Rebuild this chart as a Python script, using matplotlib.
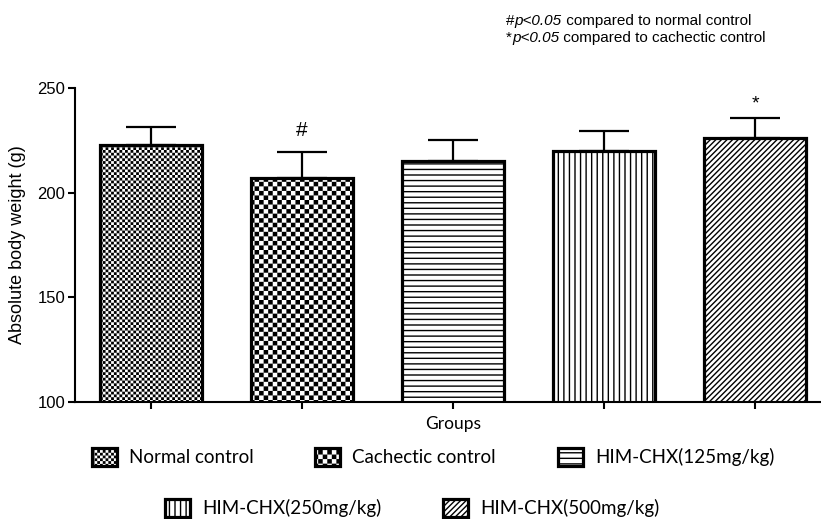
import numpy as np
import matplotlib
matplotlib.use("Agg")
import matplotlib.pyplot as plt
import matplotlib.hatch as mhatch
from matplotlib.path import Path

# data (mean and upper error, g)
groups = ["Normal control", "Cachectic control", "HIM-CHX(125mg/kg)",
          "HIM-CHX(250mg/kg)", "HIM-CHX(500mg/kg)"]
means = [222.8, 206.9, 215.1, 219.9, 226.3]
errors = [8.4, 12.5, 10.1, 9.6, 9.2]
marks = ["", "#", "", "", "*"]
hatches = ["o" * 18, "o" * 11, "---", "|||", "//////"]

HATCH_LW = 1.0  # points


# checkerboard fill: re-use the 'o' hatch letter, count sets the cell size
class CheckerHatch(mhatch.HatchPatternBase):
    def __init__(self, hatch, density):
        self.n = hatch.count("o") * 2
        self.num_vertices = (self.n * self.n // 2) * 5 if self.n else 0

    def set_vertices_and_codes(self, vertices, codes):
        s = 1.0 / self.n
        # the hatch is also stroked, so pull each square in by half a line
        d = HATCH_LW / 72 / 2
        k = 0
        for i in range(self.n):
            for j in range(self.n):
                if (i + j) % 2:
                    continue
                x0, y0 = i * s + d, j * s + d
                x1, y1 = (i + 1) * s - d, (j + 1) * s - d
                vertices[k:k + 5] = [(x0, y0), (x1, y0), (x1, y1), (x0, y1), (x0, y0)]
                codes[k:k + 5] = [Path.MOVETO, Path.LINETO, Path.LINETO, Path.LINETO, Path.CLOSEPOLY]
                k += 5


mhatch._hatch_types[mhatch._hatch_types.index(mhatch.SmallCircles)] = CheckerHatch

plt.rcParams["font.family"] = ["Liberation Sans", "DejaVu Sans"]
plt.rcParams["hatch.linewidth"] = HATCH_LW

fig = plt.figure(figsize=(8.21, 5.19), dpi=100)
ax = fig.add_axes([75 / 821, 1 - 402 / 519, 745 / 821, 314 / 519])

x = np.arange(len(groups))
ax.errorbar(x, means, yerr=[np.zeros(len(means)), errors], fmt="none",
            ecolor="black", elinewidth=1.6, capsize=18, capthick=1.6, zorder=1)
bars = ax.bar(x, means, width=0.675, bottom=0, color="white",
              edgecolor="black", linewidth=2.3, zorder=2)
for b, h in zip(bars, hatches):
    b.set_hatch(h)

for xi, m, e, t in zip(x, means, errors, marks):
    if t == "#":
        ax.annotate(t, (xi, m + e), xytext=(0, 9), textcoords="offset points",
                    ha="center", va="bottom", fontsize=15)
    elif t == "*":
        ax.annotate(t, (xi, m + e), xytext=(0, 4), textcoords="offset points",
                    ha="center", va="bottom", fontsize=14)

ax.set_ylim(100, 250)
ax.set_xlim(-0.503, 4.43)
ax.set_yticks([100, 150, 200, 250])
ax.set_xticks(x)
ax.set_xticklabels([])
ax.tick_params(axis="both", direction="out", length=5, width=1.5, labelsize=12)
ax.tick_params(axis="y", pad=2)
for side in ["top", "right"]:
    ax.spines[side].set_visible(False)
for side in ["left", "bottom"]:
    ax.spines[side].set_linewidth(1.5)

ax.set_ylabel("Absolute body weight (g)", fontsize=13)
ax.yaxis.set_label_coords(-0.066, 0.5)
ax.set_xlabel("Groups", fontsize=12.5, family=["Lato", "DejaVu Sans"])
ax.xaxis.set_label_coords(0.507, -0.045)

# legend, two centred rows like the original
leg_kw = dict(frameon=False, loc="center", prop={"family": "Lato", "size": 13.5},
              handlelength=1.33, handleheight=1.07, handletextpad=0.65,
              columnspacing=3.3, borderpad=0)
fig.legend(bars[:3], groups[:3], ncol=3, bbox_to_anchor=(433 / 821, 1 - 457 / 519), **leg_kw)
fig.legend(bars[3:], groups[3:], ncol=2, bbox_to_anchor=(412 / 821, 1 - 508 / 519), **leg_kw)

# significance note, italic p-values
note_lines = [("#", "p<0.05", " compared to normal control"),
              ("*", "p<0.05", " compared to cachectic control")]
for i, (sym, pv, rest) in enumerate(note_lines):
    t0 = fig.text(506 / 821, 1 - (25 + i * 17) / 519, sym, fontsize=11, va="baseline")
    t1 = ax.annotate(pv, xy=(1, 0), xycoords=t0, va="bottom", fontsize=11,
                     style="italic", annotation_clip=False)
    ax.annotate(rest, xy=(1, 0), xycoords=t1, va="bottom", fontsize=11,
                annotation_clip=False)

fig.savefig("out.png", dpi=100)
